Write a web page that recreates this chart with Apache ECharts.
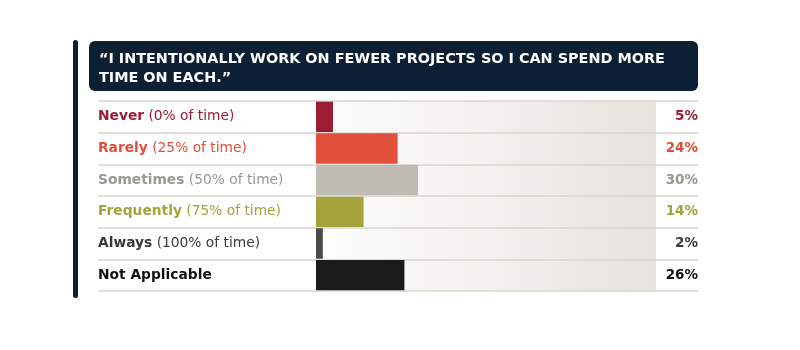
<!DOCTYPE html>
<html><head><meta charset="utf-8">
<script src="https://cdn.jsdelivr.net/npm/echarts@6/dist/echarts.min.js"></script>
<style>html,body{margin:0;padding:0;background:#fff}#c{width:800px;height:350px}</style>
</head><body><div id="c"></div>
<script>
const categories = ['Never', 'Rarely', 'Sometimes', 'Frequently', 'Always', 'Not Applicable'];
const qualifiers = ['(0% of time)', '(25% of time)', '(50% of time)', '(75% of time)', '(100% of time)', ''];
const values = [5, 24, 30, 14, 2, 26];
const titleText = '“I INTENTIONALLY WORK ON FEWER PROJECTS SO I CAN SPEND MORE\nTIME ON EACH.”';

const barColors = ['#9b1c36', '#e0503a', '#bebcb4', '#a4a23b', '#4a4a4a', '#1b1b1b'];
const textColors = ['#9b1c36', '#e0503a', '#9a9891', '#a4a23b', '#3a3a3a', '#111111'];
const FONT = '"DejaVu Sans", sans-serif';

const rich = {};
textColors.forEach((c, i) => {
  rich['b' + i] = {color: c, fontWeight: 'bold', fontSize: 13.8, fontFamily: FONT};
  rich['n' + i] = {color: c, fontWeight: 'normal', fontSize: 13.8, fontFamily: FONT};
  rich['p' + i] = {color: c, fontWeight: 'bold', fontSize: 13.5, fontFamily: FONT};
});

const chart = echarts.init(document.getElementById('c'), null, {renderer: 'canvas'});
chart.setOption({
  animation: false,
  backgroundColor: '#ffffff',
  title: {
    text: titleText, left: 94, top: 45,
    textStyle: {color: '#ffffff', fontSize: 14.4, fontWeight: 'bold', fontFamily: FONT, lineHeight: 19}
  },
  graphic: [
    {type: 'rect', z: -1, shape: {x: 73, y: 40, width: 5, height: 258, r: 2.5}, style: {fill: '#0c1f33'}},
    {type: 'rect', z: -1, shape: {x: 89, y: 41, width: 609, height: 50, r: 6}, style: {fill: '#0c1f33'}}
  ],
  grid: [
    {left: 316, width: 340, top: 101, height: 190, show: true, borderWidth: 0,
     backgroundColor: new echarts.graphic.LinearGradient(0, 0, 1, 0, [
       {offset: 0, color: '#fdfdfc'}, {offset: 0.4, color: '#f5f4f1'}, {offset: 1, color: '#e5e3dd'}])},
    {left: 98, width: 600, top: 101, height: 190}
  ],
  xAxis: [
    {gridIndex: 0, type: 'value', min: 0, max: 100, show: false},
    {gridIndex: 1, type: 'value', min: 0, max: 100, show: false}
  ],
  yAxis: [
    {gridIndex: 0, type: 'category', inverse: true, data: categories,
     axisLine: {show: false}, axisTick: {show: false}, splitLine: {show: false},
     axisLabel: {align: 'left', margin: 218, rich: rich,
       formatter: (v, i) => '{b' + i + '|' + v + '}' + (qualifiers[i] ? '{n' + i + '| ' + qualifiers[i] + '}' : '')}},
    {gridIndex: 0, type: 'category', inverse: true, position: 'right', data: values.map(v => v + '%'),
     axisLine: {show: false}, axisTick: {show: false}, splitLine: {show: false},
     axisLabel: {align: 'right', margin: 42, rich: rich, formatter: (v, i) => '{p' + i + '|' + v + '}'}},
    {gridIndex: 1, type: 'category', inverse: true, data: categories,
     axisLine: {show: false}, axisTick: {show: false}, axisLabel: {show: false},
     splitLine: {show: true, lineStyle: {color: '#d8d5ce', width: 1.5}}}
  ],
  series: [{
    type: 'bar', xAxisIndex: 0, yAxisIndex: 0, barCategoryGap: '4%', z: 3,
    data: values.map((v, i) => ({value: v, itemStyle: {color: barColors[i]}}))
  }]
});
</script></body></html>
